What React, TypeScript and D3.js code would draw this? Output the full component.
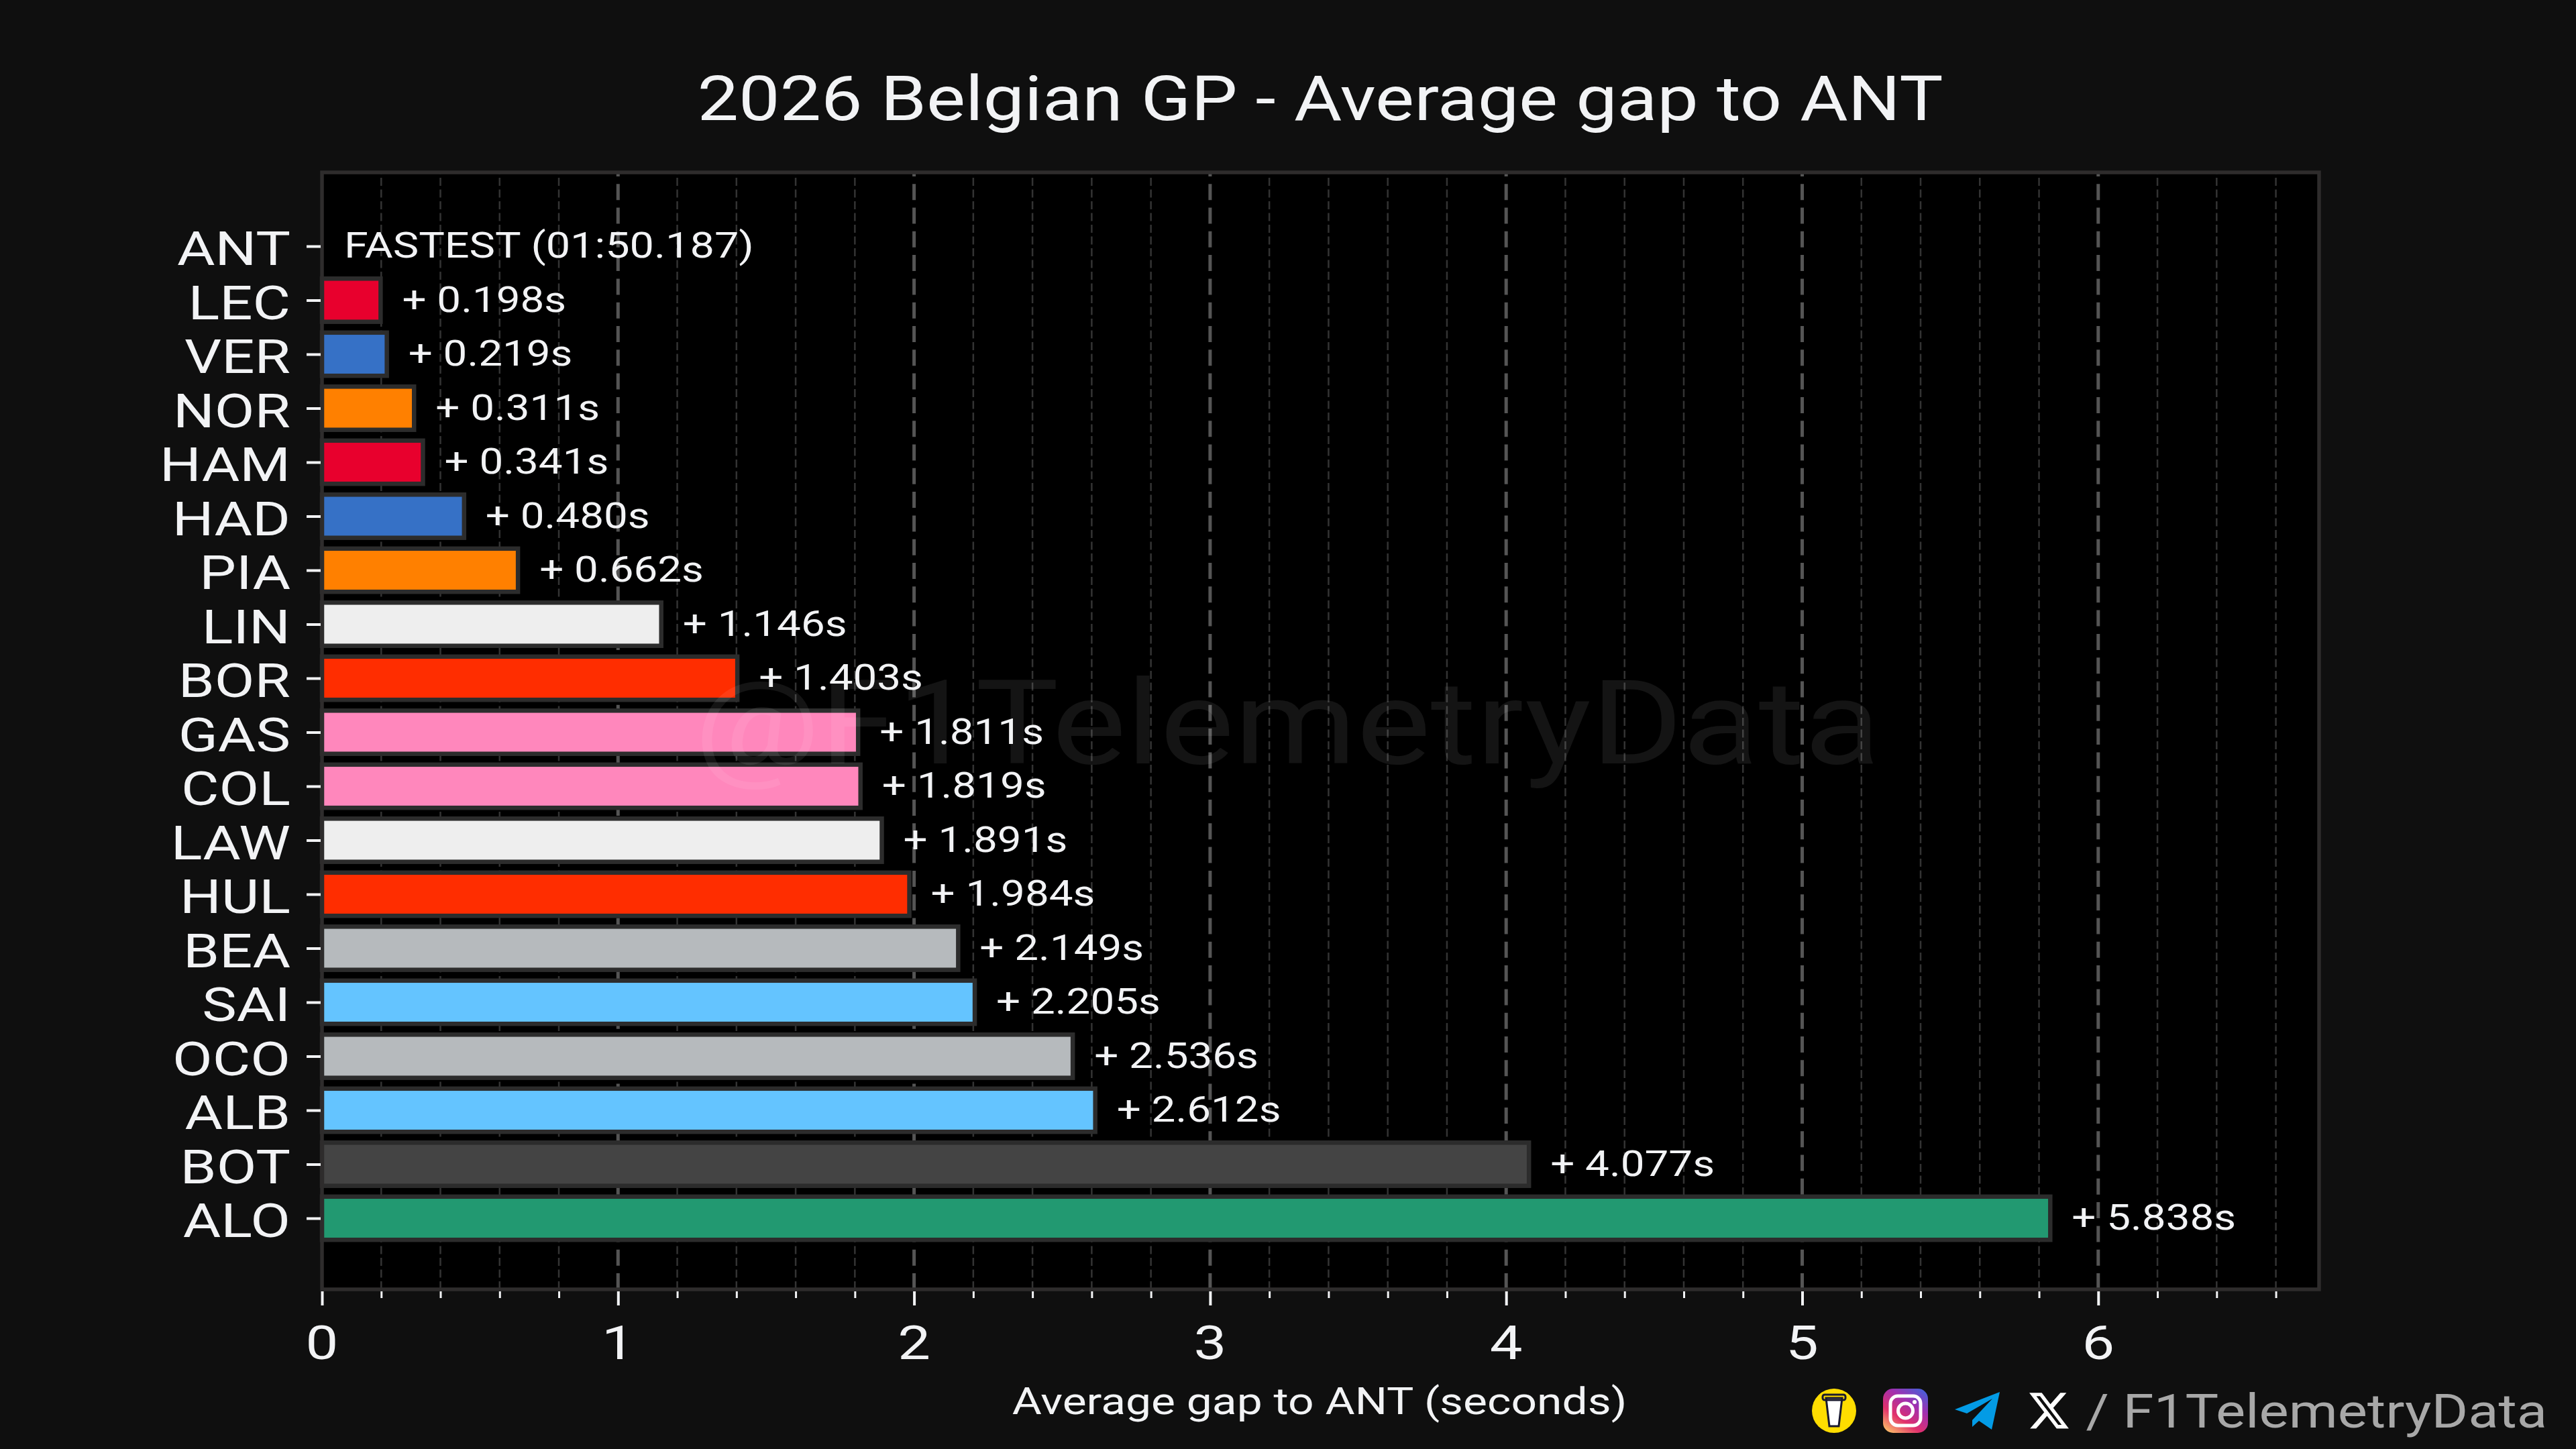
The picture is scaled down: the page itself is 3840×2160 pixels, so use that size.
import { useEffect, useRef } from 'react';
import * as d3 from 'd3';

const drivers = ['ANT', 'LEC', 'VER', 'NOR', 'HAM', 'HAD', 'PIA', 'LIN', 'BOR', 'GAS', 'COL', 'LAW', 'HUL', 'BEA', 'SAI', 'OCO', 'ALB', 'BOT', 'ALO'];
const gaps = [0, 0.198, 0.219, 0.311, 0.341, 0.48, 0.662, 1.146, 1.403, 1.811, 1.819, 1.891, 1.984, 2.149, 2.205, 2.536, 2.612, 4.077, 5.838];
const barColors = ['#000000', '#e8002d', '#3671c6', '#ff8000', '#e8002d', '#3671c6', '#ff8000', '#eeeeee', '#ff2d00', '#ff87bc', '#ff87bc', '#eeeeee', '#ff2d00', '#b6babd', '#64c4ff', '#b6babd', '#64c4ff', '#444444', '#229971'];
const majorTicks = [0, 1, 2, 3, 4, 5, 6];
const minorTicks = [0.2, 0.4, 0.6, 0.8, 1.2, 1.4, 1.6, 1.8, 2.2, 2.4, 2.6, 2.8, 3.2, 3.4, 3.6, 3.8, 4.2, 4.4, 4.6, 4.8, 5.2, 5.4, 5.6, 5.8, 6.2, 6.4, 6.6];
const fastestLabel = 'FASTEST (01:50.187)';
const titleText = '2026 Belgian GP - Average gap to ANT';
const xLabelText = 'Average gap to ANT (seconds)';
const watermarkText = '@F1TelemetryData';
const handleText = '/ F1TelemetryData';

const FONT = 'Roboto, sans-serif';
const WIDTH = 3840;
const HEIGHT = 2160;

export default function App() {
  const svgRef = useRef<SVGSVGElement>(null);

  useEffect(() => {
    if (!svgRef.current) return;
    const svg = d3.select(svgRef.current);
    svg.selectAll('*').remove();

    const plot = { left: 480, right: 3457, top: 257, bottom: 1922 };

    // Scales
    const x = d3.scaleLinear().domain([0, 6.746]).range([plot.left, plot.right]);
    const y = d3.scalePoint<string>().domain(drivers).range([367, 1816]);

    svg.append('rect').attr('width', WIDTH).attr('height', HEIGHT).attr('fill', '#0f0f0f');
    svg.append('rect')
      .attr('x', plot.left)
      .attr('y', plot.top)
      .attr('width', plot.right - plot.left)
      .attr('height', plot.bottom - plot.top)
      .attr('fill', '#000000');

    // Stretched text, the source font is a lot wider than anything installed
    const label = (
      px: number,
      py: number,
      text: string,
      size: number,
      anchor: string,
      stretch: number,
      fill = '#f2f3f5'
    ) =>
      svg.append('text')
        .attr('transform', `translate(${px},${py}) scale(${stretch},1)`)
        .attr('font-family', FONT)
        .attr('font-size', size)
        .attr('text-anchor', anchor)
        .attr('fill', fill)
        .text(text);

    // Grid
    minorTicks.forEach(t => {
      svg.append('line')
        .attr('x1', x(t)).attr('x2', x(t))
        .attr('y1', plot.bottom).attr('y2', plot.top)
        .attr('stroke', '#333333')
        .attr('stroke-width', 2.5)
        .attr('stroke-dasharray', '12 5.5');
    });
    majorTicks.slice(1).forEach(t => {
      svg.append('line')
        .attr('x1', x(t)).attr('x2', x(t))
        .attr('y1', plot.bottom).attr('y2', plot.top)
        .attr('stroke', '#555555')
        .attr('stroke-width', 5)
        .attr('stroke-dasharray', '24 11.3');
    });

    // Bars, ANT has zero gap so it gets the text only
    drivers.forEach((d, i) => {
      if (gaps[i] > 0) {
        svg.append('rect')
          .attr('x', x(0))
          .attr('y', (y(d) as number) - 32.2)
          .attr('width', x(gaps[i]) - x(0))
          .attr('height', 64.4)
          .attr('fill', barColors[i])
          .attr('stroke', '#2c2c2c')
          .attr('stroke-width', 6.5);
      }
    });

    // Value labels
    drivers.forEach((d, i) => {
      const py = (y(d) as number) + 17;
      if (gaps[i] === 0) {
        label(513, py, fastestLabel, 54, 'start', 1.2);
      } else {
        label(x(gaps[i]) + 32, py, `+ ${gaps[i].toFixed(3)}s`, 54, 'start', 1.18);
      }
    });

    // Watermark sits on top of the bars
    label(1919, 1138, watermarkText, 175, 'middle', 1.19, 'rgba(255,255,255,0.08)');

    // Spines
    svg.append('rect')
      .attr('x', plot.left)
      .attr('y', plot.top)
      .attr('width', plot.right - plot.left)
      .attr('height', plot.bottom - plot.top)
      .attr('fill', 'none')
      .attr('stroke', '#2e2c2c')
      .attr('stroke-width', 5.5);

    // Axes
    const xAxis = svg.append('g')
      .attr('transform', `translate(0,${plot.bottom + 3})`)
      .call(d3.axisBottom(x).tickValues(majorTicks).tickSize(21).tickSizeOuter(0).tickFormat(() => ''));
    xAxis.select('.domain').remove();
    xAxis.selectAll('line').attr('stroke', '#f2f3f5').attr('stroke-width', 4);

    const xMinor = svg.append('g')
      .attr('transform', `translate(0,${plot.bottom + 3})`)
      .call(d3.axisBottom(x).tickValues(minorTicks).tickSize(10).tickSizeOuter(0).tickFormat(() => ''));
    xMinor.select('.domain').remove();
    xMinor.selectAll('line').attr('stroke', '#f2f3f5').attr('stroke-width', 3);

    const yAxis = svg.append('g')
      .attr('transform', `translate(${plot.left - 2},0)`)
      .call(d3.axisLeft(y).tickSize(21).tickSizeOuter(0).tickFormat(() => ''));
    yAxis.select('.domain').remove();
    yAxis.selectAll('line').attr('stroke', '#f2f3f5').attr('stroke-width', 4);

    majorTicks.forEach(t => label(x(t), 2026, String(t), 70, 'middle', 1.24));
    drivers.forEach(d => label(433, (y(d) as number) + 28, d, 70, 'end', 1.24));

    label(1968, 179, titleText, 92, 'middle', 1.19);
    label(1967, 2108, xLabelText, 56, 'middle', 1.21);

    // Footer icons
    const footer = svg.append('g');
    footer.append('ellipse').attr('cx', 2734).attr('cy', 2103).attr('rx', 33).attr('ry', 33).attr('fill', '#ffdd00');
    footer.append('path')
      .attr('d', 'M2722 2084 L2746 2084 L2741 2126 L2727 2126 Z')
      .attr('fill', '#ffffff')
      .attr('stroke', '#1a1a2e')
      .attr('stroke-width', 3);
    footer.append('rect').attr('x', 2717).attr('y', 2079).attr('width', 34).attr('height', 8).attr('rx', 3).attr('fill', 'none').attr('stroke', '#1a1a2e').attr('stroke-width', 3);

    const defs = svg.append('defs');
    const insta = defs.append('linearGradient')
      .attr('id', 'insta-gradient')
      .attr('x1', '10%').attr('y1', '100%')
      .attr('x2', '80%').attr('y2', '0%');
    insta.append('stop').attr('offset', '0%').attr('stop-color', '#fdc468');
    insta.append('stop').attr('offset', '35%').attr('stop-color', '#e1306c');
    insta.append('stop').attr('offset', '70%').attr('stop-color', '#a02fb0');
    insta.append('stop').attr('offset', '100%').attr('stop-color', '#4f5bd5');
    footer.append('rect').attr('x', 2807).attr('y', 2070).attr('width', 67).attr('height', 66).attr('rx', 15).attr('fill', 'url(#insta-gradient)');
    footer.append('rect').attr('x', 2818).attr('y', 2081).attr('width', 45).attr('height', 44).attr('rx', 11).attr('fill', 'none').attr('stroke', '#ffffff').attr('stroke-width', 5);
    footer.append('circle').attr('cx', 2840.5).attr('cy', 2103).attr('r', 11).attr('fill', 'none').attr('stroke', '#ffffff').attr('stroke-width', 5);
    footer.append('circle').attr('cx', 2854).attr('cy', 2090).attr('r', 3).attr('fill', '#ffffff');

    footer.append('path')
      .attr('d', 'M2981 2075 L2914 2101 L2932 2107 L2970 2085 L2940 2117 L2940 2127 L2950 2118 L2969 2131 Z')
      .attr('fill', '#039be5');

    footer.append('path')
      .attr('transform', 'translate(3021.6,2070) scale(2.73)')
      .attr('d', 'M18.244 2.25h3.308l-7.227 8.26 8.502 11.24H16.17l-5.214-6.817L4.99 21.75H1.68l7.73-8.835L1.254 2.25H8.08l4.713 6.231zm-1.161 17.52h1.833L7.084 4.126H5.117z')
      .attr('fill', '#ffffff');

    label(3797, 2128, handleText, 70, 'end', 1.19, '#a8a8a8');
  }, []);

  return (
    <svg
      ref={svgRef}
      width={WIDTH}
      height={HEIGHT}
      style={{ position: 'absolute', left: 0, top: 0, display: 'block' }}
    />
  );
}
